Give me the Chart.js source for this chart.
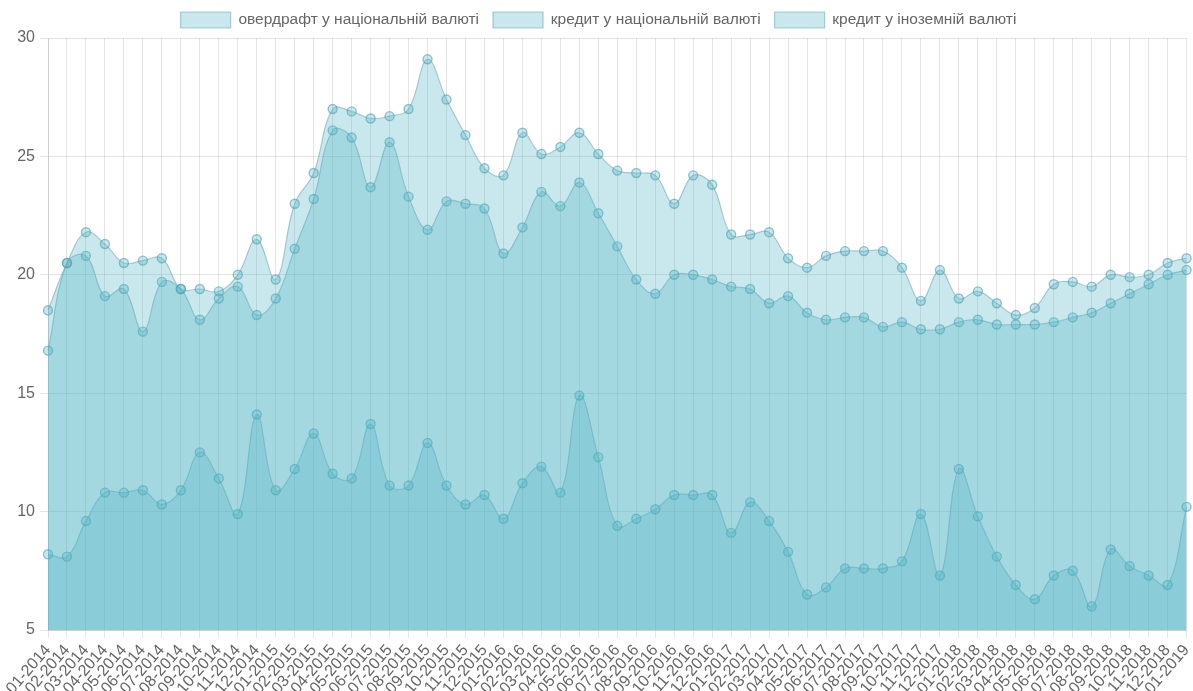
<!DOCTYPE html>
<html>
<head>
<meta charset="utf-8">
<script src="https://cdn.jsdelivr.net/npm/chart.js@4.4.0/dist/chart.umd.min.js"></script>
<style>
  html, body { margin: 0; padding: 0; background: #fff; }
  #wrap { width: 1193px; height: 691px; }
</style>
</head>
<body>
<div id="wrap"><canvas id="rateChart"></canvas></div>
<script>
const months = [
  "01-2014","02-2014","03-2014","04-2014","05-2014","06-2014","07-2014","08-2014","09-2014","10-2014","11-2014","12-2014",
  "01-2015","02-2015","03-2015","04-2015","05-2015","06-2015","07-2015","08-2015","09-2015","10-2015","11-2015","12-2015",
  "01-2016","02-2016","03-2016","04-2016","05-2016","06-2016","07-2016","08-2016","09-2016","10-2016","11-2016","12-2016",
  "01-2017","02-2017","03-2017","04-2017","05-2017","06-2017","07-2017","08-2017","09-2017","10-2017","11-2017","12-2017",
  "01-2018","02-2018","03-2018","04-2018","05-2018","06-2018","07-2018","08-2018","09-2018","10-2018","11-2018","12-2018",
  "01-2019"
];

const overdraftUah = [
  18.5, 20.5, 21.8, 21.3, 20.5, 20.6, 20.7, 19.4, 19.4, 19.3, 20.0, 21.5,
  19.8, 23.0, 24.3, 27.0, 26.9, 26.6, 26.7, 27.0, 29.1, 27.4, 25.9, 24.5,
  24.2, 26.0, 25.1, 25.4, 26.0, 25.1, 24.4, 24.3, 24.2, 23.0, 24.2, 23.8,
  21.7, 21.7, 21.8, 20.7, 20.3, 20.8, 21.0, 21.0, 21.0, 20.3, 18.9, 20.2,
  19.0, 19.3, 18.8, 18.3, 18.6, 19.6, 19.7, 19.5, 20.0, 19.9, 20.0, 20.5,
  20.7
];

const creditUah = [
  16.8, 20.5, 20.8, 19.1, 19.4, 17.6, 19.7, 19.4, 18.1, 19.0, 19.5, 18.3,
  19.0, 21.1, 23.2, 26.1, 25.8, 23.7, 25.6, 23.3, 21.9, 23.1, 23.0, 22.8,
  20.9, 22.0, 23.5, 22.9, 23.9, 22.6, 21.2, 19.8, 19.2, 20.0, 20.0, 19.8,
  19.5, 19.4, 18.8, 19.1, 18.4, 18.1, 18.2, 18.2, 17.8, 18.0, 17.7, 17.7,
  18.0, 18.1, 17.9, 17.9, 17.9, 18.0, 18.2, 18.4, 18.8, 19.2, 19.6, 20.0,
  20.2
];

const creditForeign = [
  8.2, 8.1, 9.6, 10.8, 10.8, 10.9, 10.3, 10.9, 12.5, 11.4, 9.9, 14.1,
  10.9, 11.8, 13.3, 11.6, 11.4, 13.7, 11.1, 11.1, 12.9, 11.1, 10.3, 10.7,
  9.7, 11.2, 11.9, 10.8, 14.9, 12.3, 9.4, 9.7, 10.1, 10.7, 10.7, 10.7,
  9.1, 10.4, 9.6, 8.3, 6.5, 6.8, 7.6, 7.6, 7.6, 7.9, 9.9, 7.3,
  11.8, 9.8, 8.1, 6.9, 6.3, 7.3, 7.5, 6.0, 8.4, 7.7, 7.3, 6.9,
  10.2
];

const seriesNames = ["овердрафт у національній валюті", "кредит у національній валюті", "кредит у іноземній валюті"];
const yTicks = [5, 10, 15, 20, 25, 30];

const fillColor = "rgba(75, 180, 195, 0.3)";
const lineColor = "rgba(110, 165, 175, 0.55)";

function makeSet(label, values) {
  return {
    label: label,
    data: values,
    fill: "start",
    backgroundColor: fillColor,
    borderColor: lineColor,
    borderWidth: 1.2,
    tension: 0.4,
    pointRadius: 4.5,
    pointHoverRadius: 5,
    pointBackgroundColor: fillColor,
    pointBorderColor: "rgba(80, 160, 175, 0.6)",
    pointBorderWidth: 1.4
  };
}

document.addEventListener("DOMContentLoaded", () => {
  const ctx = document.getElementById("rateChart").getContext("2d");
  Chart.defaults.font.family = "'Liberation Sans', Arial, sans-serif";
  Chart.defaults.color = "#666";

  new Chart(ctx, {
    type: "line",
    data: {
      labels: months,
      datasets: [
        makeSet(seriesNames[0], overdraftUah),
        makeSet(seriesNames[1], creditUah),
        makeSet(seriesNames[2], creditForeign)
      ]
    },
    options: {
      responsive: true,
      maintainAspectRatio: false,
      animation: false,
      layout: { padding: { left: 0, right: -4, top: -10, bottom: 0 } },
      plugins: {
        legend: {
          position: "top",
          labels: {
            boxWidth: 50,
            boxHeight: 16,
            padding: 14,
            font: { size: 15.5 }
          }
        },
        tooltip: { enabled: false }
      },
      scales: {
        x: {
          grid: { color: "rgba(0,0,0,0.1)" },
          ticks: {
            autoSkip: false,
            maxRotation: 49,
            minRotation: 49,
            font: { size: 16 }
          },
          afterFit: (axis) => {
            axis.height = 61;
            axis.paddingLeft = 0;
            axis.paddingRight = 0;
          }
        },
        y: {
          min: yTicks[0],
          max: yTicks[yTicks.length - 1],
          grid: { color: "rgba(0,0,0,0.1)" },
          afterBuildTicks: (axis) => {
            axis.ticks = yTicks.map(v => ({ value: v }));
          },
          ticks: {
            padding: 5,
            font: { size: 16 }
          },
          afterFit: (axis) => {
            axis.width = 48;
            axis.paddingTop = 38;
          }
        }
      }
    }
  });
});
</script>
</body>
</html>
